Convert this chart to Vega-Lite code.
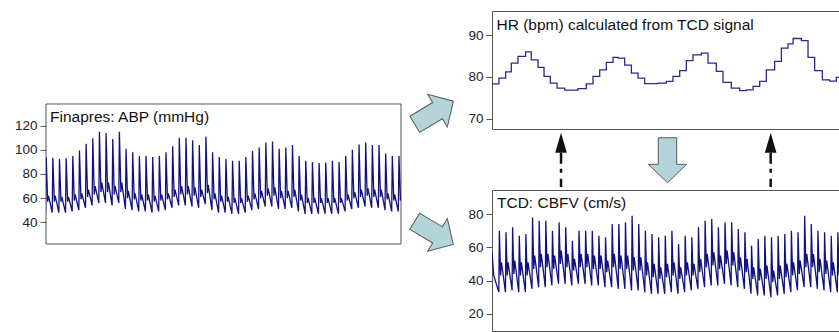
{
  "$schema": "https://vega.github.io/schema/vega-lite/v6.json",
  "padding": {"left": 14, "top": 10, "right": 0, "bottom": 0},
  "bounds": "flush",
  "spacing": 91,
  "config": {
    "font": "Liberation Sans",
    "view": {"stroke": "#555", "strokeWidth": 1},
    "axis": {"domain": false, "grid": false, "ticks": true, "tickColor": "#555", "tickSize": 6, "labelFontSize": 13.5, "labelColor": "#222", "labelPadding": 3, "labelFont": "Liberation Sans", "title": null},
    "title": {"anchor": "start", "frame": "group", "orient": "top", "baseline": "top", "fontSize": 15.5, "fontWeight": "normal", "color": "#111", "font": "Liberation Sans"}
  },
  "datasets": {
    "abp": [
      {"t":-5,"v":48},{"t":2,"v":94},{"t":19,"v":57},{"t":28,"v":62},
      {"t":70,"v":48},{"t":77,"v":93.5},{"t":94,"v":57},{"t":103,"v":62},
      {"t":145,"v":48},{"t":152,"v":92.5},{"t":169,"v":57},{"t":178,"v":61},
      {"t":220,"v":48},{"t":227,"v":93},{"t":244,"v":57},{"t":253,"v":61},
      {"t":295,"v":49},{"t":302,"v":95},{"t":319,"v":58},{"t":328,"v":63},
      {"t":370,"v":50},{"t":377,"v":99.5},{"t":394,"v":59},{"t":403,"v":64},
      {"t":445,"v":52},{"t":452,"v":105},{"t":469,"v":61},{"t":478,"v":67},
      {"t":520,"v":54},{"t":527,"v":109.5},{"t":544,"v":63},{"t":553,"v":70},
      {"t":595,"v":56},{"t":602,"v":115},{"t":619,"v":65},{"t":628,"v":73},
      {"t":670,"v":56},{"t":677,"v":114},{"t":694,"v":65},{"t":703,"v":73},
      {"t":745,"v":54},{"t":752,"v":109},{"t":769,"v":63},{"t":778,"v":70},
      {"t":820,"v":56},{"t":827,"v":115},{"t":844,"v":65},{"t":853,"v":73},
      {"t":895,"v":51},{"t":902,"v":101},{"t":919,"v":60},{"t":928,"v":66},
      {"t":970,"v":50},{"t":977,"v":98},{"t":994,"v":59},{"t":1003,"v":64},
      {"t":1045,"v":49},{"t":1052,"v":95},{"t":1069,"v":58},{"t":1078,"v":63},
      {"t":1120,"v":49},{"t":1127,"v":95},{"t":1144,"v":58},{"t":1153,"v":63},
      {"t":1195,"v":48},{"t":1202,"v":94},{"t":1219,"v":57},{"t":1228,"v":62},
      {"t":1270,"v":49},{"t":1277,"v":95},{"t":1294,"v":58},{"t":1303,"v":63},
      {"t":1345,"v":50},{"t":1352,"v":98},{"t":1369,"v":59},{"t":1378,"v":64},
      {"t":1420,"v":52},{"t":1427,"v":103},{"t":1444,"v":61},{"t":1453,"v":67},
      {"t":1495,"v":54},{"t":1502,"v":110},{"t":1519,"v":63},{"t":1528,"v":70},
      {"t":1570,"v":54},{"t":1577,"v":110},{"t":1594,"v":63},{"t":1603,"v":70},
      {"t":1645,"v":53},{"t":1652,"v":108},{"t":1669,"v":62},{"t":1678,"v":69},
      {"t":1720,"v":52},{"t":1727,"v":104},{"t":1744,"v":61},{"t":1753,"v":67},
      {"t":1795,"v":55},{"t":1802,"v":111},{"t":1819,"v":64},{"t":1828,"v":71},
      {"t":1870,"v":50},{"t":1877,"v":98},{"t":1894,"v":59},{"t":1903,"v":64},
      {"t":1945,"v":48},{"t":1952,"v":94},{"t":1969,"v":57},{"t":1978,"v":62},
      {"t":2020,"v":48},{"t":2027,"v":92.5},{"t":2044,"v":57},{"t":2053,"v":61},
      {"t":2095,"v":47},{"t":2102,"v":91},{"t":2119,"v":56},{"t":2128,"v":60},
      {"t":2170,"v":47},{"t":2177,"v":91},{"t":2194,"v":56},{"t":2203,"v":60},
      {"t":2245,"v":48},{"t":2252,"v":94},{"t":2269,"v":57},{"t":2278,"v":62},
      {"t":2320,"v":50},{"t":2327,"v":99},{"t":2344,"v":59},{"t":2353,"v":64},
      {"t":2395,"v":51},{"t":2402,"v":102},{"t":2419,"v":60},{"t":2428,"v":66},
      {"t":2470,"v":53},{"t":2477,"v":106},{"t":2494,"v":62},{"t":2503,"v":68},
      {"t":2545,"v":53},{"t":2552,"v":107},{"t":2569,"v":62},{"t":2578,"v":69},
      {"t":2620,"v":51},{"t":2627,"v":101},{"t":2644,"v":60},{"t":2653,"v":66},
      {"t":2695,"v":51},{"t":2702,"v":102},{"t":2719,"v":60},{"t":2728,"v":66},
      {"t":2770,"v":52},{"t":2777,"v":104},{"t":2794,"v":61},{"t":2803,"v":67},
      {"t":2845,"v":49},{"t":2852,"v":95},{"t":2869,"v":58},{"t":2878,"v":63},
      {"t":2920,"v":47},{"t":2927,"v":91},{"t":2944,"v":56},{"t":2953,"v":60},
      {"t":2995,"v":47},{"t":3002,"v":90},{"t":3019,"v":56},{"t":3028,"v":60},
      {"t":3070,"v":47},{"t":3077,"v":89},{"t":3094,"v":56},{"t":3103,"v":60},
      {"t":3145,"v":47},{"t":3152,"v":89.5},{"t":3169,"v":56},{"t":3178,"v":60},
      {"t":3220,"v":47},{"t":3227,"v":91},{"t":3244,"v":56},{"t":3253,"v":60},
      {"t":3295,"v":47},{"t":3302,"v":90},{"t":3319,"v":56},{"t":3328,"v":60},
      {"t":3370,"v":49},{"t":3377,"v":95},{"t":3394,"v":58},{"t":3403,"v":63},
      {"t":3445,"v":51},{"t":3452,"v":100},{"t":3469,"v":60},{"t":3478,"v":65},
      {"t":3520,"v":52},{"t":3527,"v":104.5},{"t":3544,"v":61},{"t":3553,"v":67},
      {"t":3595,"v":53},{"t":3602,"v":106},{"t":3619,"v":62},{"t":3628,"v":68},
      {"t":3670,"v":52},{"t":3677,"v":104},{"t":3694,"v":61},{"t":3703,"v":67},
      {"t":3745,"v":52},{"t":3752,"v":104},{"t":3769,"v":61},{"t":3778,"v":67},
      {"t":3820,"v":50},{"t":3827,"v":97},{"t":3844,"v":59},{"t":3853,"v":64},
      {"t":3895,"v":49},{"t":3902,"v":95},{"t":3919,"v":58},{"t":3928,"v":63},
      {"t":3970,"v":49},{"t":3977,"v":95},{"t":3994,"v":58},{"t":4003,"v":63}
    ],
    "cbfv": [
      {"t":0,"v":57},{"t":20,"v":43},
      {"t":77,"v":33},{"t":83,"v":70},{"t":97,"v":43},{"t":107,"v":51},
      {"t":152,"v":33},{"t":158,"v":69},{"t":172,"v":43},{"t":182,"v":51},
      {"t":227,"v":34},{"t":233,"v":72},{"t":247,"v":44},{"t":257,"v":52},
      {"t":302,"v":33},{"t":308,"v":67},{"t":322,"v":43},{"t":332,"v":51},
      {"t":377,"v":33},{"t":383,"v":68},{"t":397,"v":43},{"t":407,"v":51},
      {"t":452,"v":35},{"t":458,"v":78},{"t":472,"v":47},{"t":482,"v":55},
      {"t":527,"v":36},{"t":533,"v":76},{"t":547,"v":48},{"t":557,"v":56},
      {"t":602,"v":36},{"t":608,"v":76},{"t":622,"v":48},{"t":632,"v":56},
      {"t":677,"v":37},{"t":683,"v":70},{"t":697,"v":47},{"t":707,"v":55},
      {"t":752,"v":38},{"t":758,"v":75},{"t":772,"v":50},{"t":782,"v":58},
      {"t":827,"v":38},{"t":833,"v":72},{"t":847,"v":48},{"t":857,"v":56},
      {"t":902,"v":37},{"t":908,"v":64},{"t":922,"v":46},{"t":932,"v":53},
      {"t":977,"v":38},{"t":983,"v":70},{"t":997,"v":48},{"t":1007,"v":56},
      {"t":1052,"v":38},{"t":1058,"v":70},{"t":1072,"v":48},{"t":1082,"v":56},
      {"t":1127,"v":37},{"t":1133,"v":70},{"t":1147,"v":47},{"t":1157,"v":55},
      {"t":1202,"v":37},{"t":1208,"v":67},{"t":1222,"v":47},{"t":1232,"v":55},
      {"t":1277,"v":36},{"t":1283,"v":66},{"t":1297,"v":45},{"t":1307,"v":52},
      {"t":1352,"v":36},{"t":1358,"v":74},{"t":1372,"v":48},{"t":1382,"v":56},
      {"t":1427,"v":35},{"t":1433,"v":74},{"t":1447,"v":47},{"t":1457,"v":55},
      {"t":1502,"v":35},{"t":1508,"v":75},{"t":1522,"v":47},{"t":1532,"v":55},
      {"t":1577,"v":34},{"t":1583,"v":79},{"t":1597,"v":46},{"t":1607,"v":54},
      {"t":1652,"v":34},{"t":1658,"v":74},{"t":1672,"v":46},{"t":1682,"v":54},
      {"t":1727,"v":33},{"t":1733,"v":70},{"t":1747,"v":43},{"t":1757,"v":51},
      {"t":1802,"v":32},{"t":1808,"v":68},{"t":1822,"v":42},{"t":1832,"v":50},
      {"t":1877,"v":32},{"t":1883,"v":66},{"t":1897,"v":41},{"t":1907,"v":48},
      {"t":1952,"v":32},{"t":1958,"v":67},{"t":1972,"v":42},{"t":1982,"v":50},
      {"t":2027,"v":33},{"t":2033,"v":70},{"t":2047,"v":43},{"t":2057,"v":51},
      {"t":2102,"v":32},{"t":2108,"v":62},{"t":2122,"v":41},{"t":2132,"v":48},
      {"t":2177,"v":33},{"t":2183,"v":67},{"t":2197,"v":43},{"t":2207,"v":51},
      {"t":2252,"v":34},{"t":2258,"v":66},{"t":2272,"v":43},{"t":2282,"v":50},
      {"t":2327,"v":35},{"t":2333,"v":72},{"t":2347,"v":45},{"t":2357,"v":53},
      {"t":2402,"v":36},{"t":2408,"v":76},{"t":2422,"v":48},{"t":2432,"v":56},
      {"t":2477,"v":37},{"t":2483,"v":77},{"t":2497,"v":49},{"t":2507,"v":57},
      {"t":2552,"v":37},{"t":2558,"v":72},{"t":2572,"v":47},{"t":2582,"v":55},
      {"t":2627,"v":38},{"t":2633,"v":75},{"t":2647,"v":50},{"t":2657,"v":58},
      {"t":2702,"v":37},{"t":2708,"v":75},{"t":2722,"v":49},{"t":2732,"v":57},
      {"t":2777,"v":36},{"t":2783,"v":71},{"t":2797,"v":46},{"t":2807,"v":54},
      {"t":2852,"v":35},{"t":2858,"v":69},{"t":2872,"v":45},{"t":2882,"v":53},
      {"t":2927,"v":32},{"t":2933,"v":61},{"t":2947,"v":41},{"t":2957,"v":48},
      {"t":3002,"v":31},{"t":3008,"v":65},{"t":3022,"v":40},{"t":3032,"v":47},
      {"t":3077,"v":31},{"t":3083,"v":67},{"t":3097,"v":41},{"t":3107,"v":49},
      {"t":3152,"v":30},{"t":3158,"v":66},{"t":3172,"v":39},{"t":3182,"v":46},
      {"t":3227,"v":31},{"t":3233,"v":67},{"t":3247,"v":41},{"t":3257,"v":49},
      {"t":3302,"v":32},{"t":3308,"v":68},{"t":3322,"v":42},{"t":3332,"v":50},
      {"t":3377,"v":33},{"t":3383,"v":70},{"t":3397,"v":43},{"t":3407,"v":51},
      {"t":3452,"v":34},{"t":3458,"v":69},{"t":3472,"v":44},{"t":3482,"v":52},
      {"t":3527,"v":36},{"t":3533,"v":79},{"t":3547,"v":48},{"t":3557,"v":56},
      {"t":3602,"v":36},{"t":3608,"v":74},{"t":3622,"v":48},{"t":3632,"v":56},
      {"t":3677,"v":35},{"t":3683,"v":70},{"t":3697,"v":45},{"t":3707,"v":53},
      {"t":3752,"v":34},{"t":3758,"v":69},{"t":3772,"v":44},{"t":3782,"v":52},
      {"t":3827,"v":33},{"t":3833,"v":67},{"t":3847,"v":43},{"t":3857,"v":51},
      {"t":3902,"v":33},{"t":3908,"v":69},{"t":3922,"v":43},{"t":3932,"v":51},
      {"t":3977,"v":34},{"t":3983,"v":66},{"t":3997,"v":43},{"t":4007,"v":50}
    ],
    "hr": [
      {"t":0,"v":78.3},{"t":79,"v":79.7},{"t":154,"v":81.2},{"t":218,"v":83.3},{"t":294,"v":84.9},
      {"t":380,"v":86},{"t":444,"v":84.1},{"t":520,"v":82.3},{"t":588,"v":80.1},{"t":659,"v":78.5},
      {"t":735,"v":77.3},{"t":821,"v":76.8},{"t":972,"v":77.2},{"t":1066,"v":78.3},{"t":1141,"v":80.1},
      {"t":1217,"v":81.7},{"t":1292,"v":83.5},{"t":1367,"v":84.7},{"t":1424,"v":84.5},{"t":1499,"v":82.8},
      {"t":1575,"v":80.9},{"t":1650,"v":79.7},{"t":1725,"v":78.4},{"t":1876,"v":78.5},{"t":1970,"v":78.9},
      {"t":2045,"v":80.1},{"t":2121,"v":81.5},{"t":2196,"v":83.9},{"t":2271,"v":85.3},{"t":2366,"v":85.7},
      {"t":2441,"v":83.3},{"t":2535,"v":81.3},{"t":2610,"v":78.7},{"t":2704,"v":77.3},{"t":2799,"v":76.7},
      {"t":2874,"v":76.9},{"t":2950,"v":77.7},{"t":3025,"v":78.9},{"t":3100,"v":81.7},{"t":3194,"v":83.7},
      {"t":3270,"v":86.9},{"t":3345,"v":87.9},{"t":3402,"v":89.2},{"t":3496,"v":88.7},{"t":3571,"v":84.7},
      {"t":3646,"v":81.5},{"t":3733,"v":79.3},{"t":3816,"v":79},{"t":3891,"v":79.9},{"t":4000,"v":79.9}
    ]
  },
  "hconcat": [
    {
      "width": 355, "height": 320,
      "view": {"stroke": null},
      "title": {"text": "Finapres: ABP (mmHg)", "offset": -114, "dx": 4},
      "encoding": {
        "x": {"field": "t", "type": "quantitative", "scale": {"domain": [0, 4000], "nice": false, "zero": false}, "axis": null},
        "y": {"field": "v", "type": "quantitative", "scale": {"domain": [-50.1, 215.06], "nice": false, "zero": false}, "axis": {"values": [40, 60, 80, 100, 120]}}
      },
      "layer": [
        {
          "data": {"values": [{"t": 0, "t2": 4000, "v": 22, "v2": 138}]},
          "mark": {"type": "rect", "filled": false, "fill": null, "stroke": "#555", "strokeWidth": 1},
          "encoding": {"x2": {"field": "t2"}, "y2": {"field": "v2"}}
        },
        {
          "data": {"name": "abp"},
          "mark": {"type": "line", "color": "#12127c", "strokeWidth": 1.3, "clip": true}
        }
      ]
    },
    {
      "bounds": "flush",
      "spacing": 61,
      "vconcat": [
        {
          "width": 354, "height": 118,
          "title": {"text": "HR (bpm) calculated from TCD signal", "offset": -22.7, "dx": 4.5},
          "encoding": {
            "x": {"field": "t", "type": "quantitative", "scale": {"domain": [0, 4000], "nice": false, "zero": false}, "axis": null},
            "y": {"field": "v", "type": "quantitative", "scale": {"domain": [67.5, 95.8], "nice": false, "zero": false}, "axis": {"values": [70, 80, 90]}}
          },
          "layer": [
            {
              "data": {"name": "hr"},
              "mark": {"type": "line", "interpolate": "step-after", "color": "#2b2b88", "strokeWidth": 1.3, "clip": true}
            },
            {
              "data": {"values": [{"t": -655, "v": 71.4}]},
              "mark": {"type": "point", "shape": "M-1,-0.42L0.18,-0.42L0.18,-0.85L1,0L0.18,0.85L0.18,0.42L-1,0.42Z", "size": 2025, "angle": -31, "filled": true, "fill": "#b5d4d9", "stroke": "#4f5b5f", "strokeWidth": 1, "opacity": 1}
            },
            {
              "data": {"values": [{"t": -655, "v": 42.6}]},
              "mark": {"type": "point", "shape": "M-1,-0.42L0.18,-0.42L0.18,-0.85L1,0L0.18,0.85L0.18,0.42L-1,0.42Z", "size": 2025, "angle": 31, "filled": true, "fill": "#b5d4d9", "stroke": "#4f5b5f", "strokeWidth": 1, "opacity": 1}
            },
            {
              "data": {"values": [{"t": 1983, "v": 60.0}]},
              "mark": {"type": "point", "shape": "M-1,-0.41L0.18,-0.41L0.18,-0.85L1,0L0.18,0.85L0.18,0.41L-1,0.41Z", "size": 2025, "angle": 90, "filled": true, "fill": "#b5d4d9", "stroke": "#4f5b5f", "strokeWidth": 1, "opacity": 1}
            },
            {
              "data": {"values": [{"t": 780, "v": 61.8, "v2": 53.6}, {"t": 3149, "v": 61.8, "v2": 53.6}]},
              "mark": {"type": "rule", "strokeDash": [11, 5, 4, 6], "strokeWidth": 2.5, "color": "#111"},
              "encoding": {"y2": {"field": "v2"}}
            },
            {
              "data": {"values": [{"t": 780, "v": 64.2}, {"t": 3149, "v": 64.2}]},
              "mark": {"type": "point", "shape": "M0,-1L0.58,1L-0.58,1Z", "size": 400, "filled": true, "fill": "#111", "stroke": null, "opacity": 1}
            }
          ]
        },
        {
          "width": 354, "height": 141,
          "title": {"text": "TCD: CBFV (cm/s)", "offset": -21.7, "dx": 5},
          "data": {"name": "cbfv"},
          "mark": {"type": "line", "color": "#12127c", "strokeWidth": 1.3, "clip": true},
          "encoding": {
            "x": {"field": "t", "type": "quantitative", "scale": {"domain": [0, 4000], "nice": false, "zero": false}, "axis": null},
            "y": {"field": "v", "type": "quantitative", "scale": {"domain": [9.6, 94.5], "nice": false, "zero": false}, "axis": {"values": [20, 40, 60, 80]}}
          }
        }
      ]
    }
  ]
}
